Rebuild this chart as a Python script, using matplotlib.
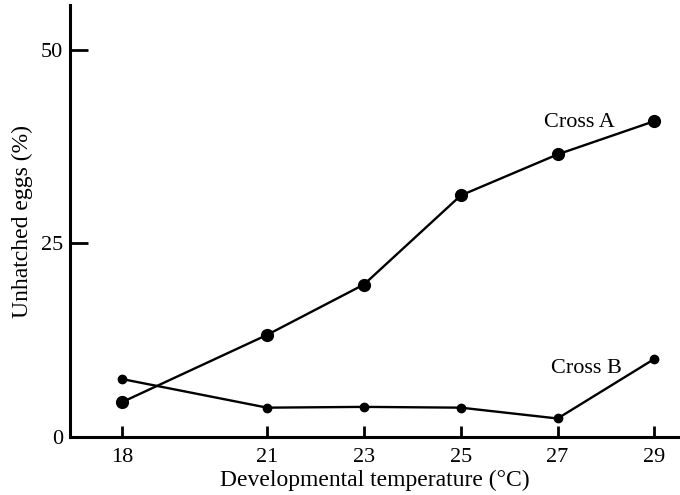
import matplotlib
matplotlib.use('Agg')
import matplotlib.pyplot as plt

temps = [18, 21, 23, 25, 27, 29]
cross_a = [4.5, 13.2, 19.7, 31.2, 36.5, 40.8]
cross_b = [7.5, 3.8, 3.9, 3.8, 2.4, 10.1]
yticks = [0, 25, 50]

plt.rcParams['font.family'] = ['Liberation Serif', 'DejaVu Serif']

fig = plt.figure(figsize=(6.8, 4.95), dpi=100)
ax = fig.add_axes([0.103, 0.117, 0.895, 0.873])

ax.plot(temps, cross_a, '-o', color='black', lw=1.7, ms=8.5)
ax.plot(temps, cross_b, '-o', color='black', lw=1.7, ms=6)

ax.text(27.45, 40.6, 'Cross A', fontsize=16, ha='center', va='center')
ax.text(27.6, 8.9, 'Cross B', fontsize=16, ha='center', va='center')

ax.set_xlim(16.93, 29.5)
ax.set_ylim(0, 55.8)
ax.set_xticks(temps)
ax.set_yticks(yticks)
ax.tick_params(direction='in', width=2, labelsize=16)
ax.tick_params(axis='y', length=13, pad=5)
ax.tick_params(axis='x', length=8, pad=8)

for s in ['top', 'right']:
    ax.spines[s].set_visible(False)
for s in ['left', 'bottom']:
    ax.spines[s].set_linewidth(2.2)

ax.set_xlabel('Developmental temperature (°C)', fontsize=17, labelpad=2)
ax.set_ylabel('Unhatched eggs (%)', fontsize=17, labelpad=6)

fig.savefig('out.png', dpi=100)
